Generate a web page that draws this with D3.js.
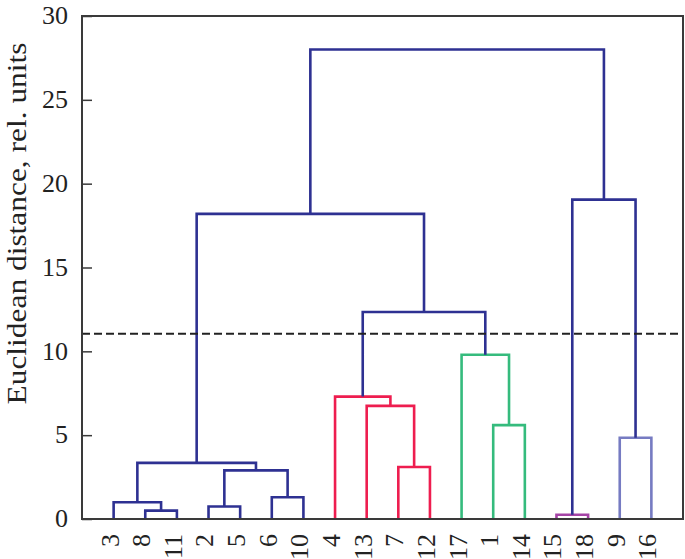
<!DOCTYPE html>
<html>
<head>
<meta charset="utf-8">
<script src="https://cdn.jsdelivr.net/npm/d3@7"></script>
<style>
  html, body { margin: 0; padding: 0; background: #fff; }
  svg { display: block; }
</style>
</head>
<body>
<script>
// ---- data ----
const leaves = ["3","8","11","2","5","6","10","4","13","7","12","17","1","14","15","18","9","16"];
// linkage: [left child, right child, height]; "mN" refers to N-th merge
const links = [
  ["8","11",0.5],
  ["3","m0",1.0],
  ["2","5",0.75],
  ["6","10",1.3],
  ["m2","m3",2.9],
  ["m1","m4",3.35],
  ["7","12",3.1],
  ["13","m6",6.75],
  ["4","m7",7.3],
  ["1","14",5.6],
  ["17","m9",9.8],
  ["m8","m10",12.35],
  ["m5","m11",18.2],
  ["15","18",0.25],
  ["9","16",4.85],
  ["m13","m14",19.05],
  ["m12","m15",28.0]
];
const linkGroup = ["blue","blue","blue","blue","blue","blue","red","red","red","green","green","blue","blue","purple","lavender","blue","blue"];
const yTicks = [0,5,10,15,20,25,30];
const cutoff = 11.05;
const yTitle = "Euclidean distance, rel. units";

const palette = { blue:"#2e3192", red:"#ee1d4f", green:"#35bb7d", purple:"#a544a6", lavender:"#767bc2" };

// ---- layout ----
const W = 685, H = 559;
const m = { left: 82, top: 16, right: 2, bottom: 40 };
const x0 = m.left, x1 = W - m.right, y0 = H - m.bottom, y1 = m.top;
const serif = "'Liberation Serif', 'Times New Roman', Times, serif";

const svg = d3.select("body").append("svg").attr("width", W).attr("height", H);

const x = d3.scalePoint().domain(leaves).range([x0, x1]).padding(1);
const y = d3.scaleLinear().domain([0, 30]).range([y0, y1]);

// compute node positions
const pos = {};
leaves.forEach(l => pos[l] = { x: x(l), h: 0 });
links.forEach((lk, i) => {
  const a = pos[lk[0]], b = pos[lk[1]];
  pos["m" + i] = { x: (a.x + b.x) / 2, h: lk[2] };
});

// axis
const axis = d3.axisLeft(y).tickValues(yTicks).tickSizeInner(-10).tickSizeOuter(0).tickPadding(14);
const gAxis = svg.append("g").attr("transform", `translate(${x0},0)`).call(axis);
gAxis.select(".domain").remove();
gAxis.selectAll(".tick line").attr("stroke", "#3a3a3a").attr("stroke-width", 1.5);
gAxis.selectAll(".tick text")
  .attr("font-family", serif)
  .attr("font-size", 26).attr("fill", "#222").attr("dy", "0.3em");

// dendrogram links
const gL = svg.append("g").attr("fill", "none").attr("stroke-width", 2.6).attr("stroke-linejoin", "miter");
links.forEach((lk, i) => {
  const a = pos[lk[0]], b = pos[lk[1]], h = lk[2];
  gL.append("path")
    .attr("d", `M${a.x},${y(a.h)}V${y(h)}H${b.x}V${y(b.h)}`)
    .attr("stroke", palette[linkGroup[i]]);
});

// cutoff line
svg.append("line")
  .attr("x1", x0).attr("x2", x1).attr("y1", y(cutoff)).attr("y2", y(cutoff))
  .attr("stroke", "#222").attr("stroke-width", 2.2).attr("stroke-dasharray", "8,4");

// frame
svg.append("rect").attr("x", x0).attr("y", y1).attr("width", x1 - x0).attr("height", y0 - y1)
  .attr("fill", "none").attr("stroke", "#3a3a3a").attr("stroke-width", 2);

// leaf labels
svg.append("g").selectAll("text").data(leaves).join("text")
  .attr("transform", d => `translate(${x(d)},${y0 + 15}) rotate(-90)`)
  .attr("text-anchor", "end").attr("dy", "0.19em")
  .attr("font-family", serif)
  .attr("font-size", 26).attr("fill", "#222")
  .text(d => d);

// y title
svg.append("text")
  .attr("transform", `translate(26,223.5) rotate(-90)`)
  .attr("text-anchor", "middle")
  .attr("font-family", serif)
  .attr("font-size", 28).attr("fill", "#222")
  .attr("textLength", 362).attr("lengthAdjust", "spacingAndGlyphs")
  .text(yTitle);
</script>
</body>
</html>
